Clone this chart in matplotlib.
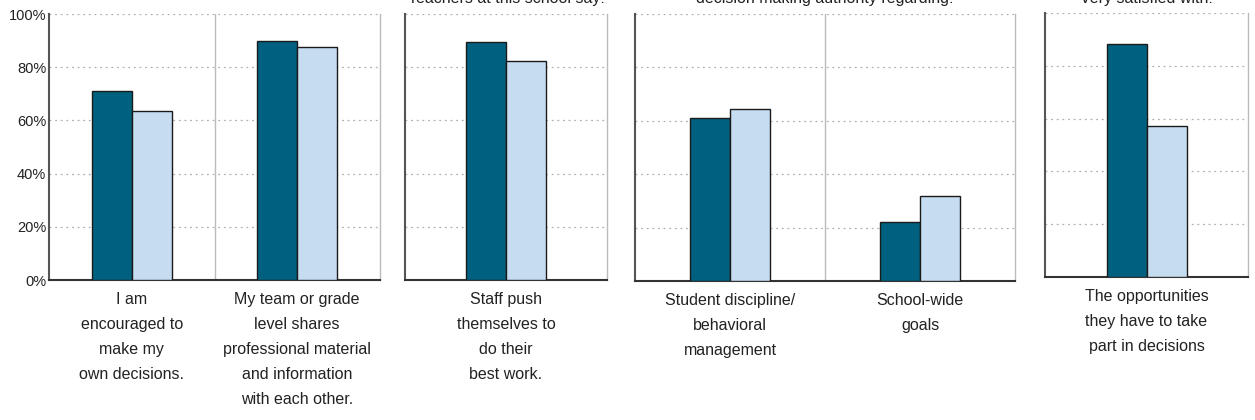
import matplotlib
matplotlib.use("Agg")
import matplotlib.pyplot as plt

plt.rcParams['font.family'] = ['Liberation Sans', 'DejaVu Sans']

# ---- data ----
panel_titles = ["", "Teachers at this school say:", "decision making authority regarding:", "Very satisfied with:"]
panel_categories = [
    ["I am\nencouraged to\nmake my\nown decisions.",
     "My team or grade\nlevel shares\nprofessional material\nand information\nwith each other."],
    ["Staff push\nthemselves to\ndo their\nbest work."],
    ["Student discipline/\nbehavioral\nmanagement", "School-wide\ngoals"],
    ["The opportunities\nthey have to take\npart in decisions"],
]
series_dark = [[71.2, 90.0], [89.3], [61.1, 22.1], [88.1]]
series_light = [[63.6, 87.7], [82.2], [64.5, 31.8], [57.1]]
y_ticks = [0, 20, 40, 60, 80, 100]
y_ticklabels = ["0%", "20%", "40%", "60%", "80%", "100%"]

# ---- layout (pixels) ----
W, H = 1255, 420
boxes = [(49, 380, 14, 280), (405, 607, 14, 280), (635, 1015, 14, 281), (1045, 1248, 13, 277)]
bar_px = 40
dark = "#00607F"
light = "#C6DCF1"
textc = "#222222"

fig = plt.figure(figsize=(W / 100, H / 100), dpi=100)

for i, (l, r, t, b) in enumerate(boxes):
    ax = fig.add_axes([l / W, 1 - b / H, (r - l) / W, (b - t) / H])
    cats = panel_categories[i]
    n = len(cats)
    w = bar_px / ((r - l) / n)
    xs = list(range(n))
    ax.bar([x - w / 2 for x in xs], series_dark[i], width=w, color=dark,
           edgecolor="#1a1a1a", linewidth=1.0, zorder=3)
    ax.bar([x + w / 2 for x in xs], series_light[i], width=w, color=light,
           edgecolor="#1a1a1a", linewidth=1.0, zorder=3)
    ax.set_xlim(-0.5, n - 0.5)
    ax.set_ylim(0, 100)
    ax.set_yticks(y_ticks)
    for yv in y_ticks[1:]:
        ax.axhline(yv, color="#b0b0b0", linestyle=(0, (1.5, 3)), linewidth=0.9, zorder=1)
    for k in range(1, n):
        ax.axvline(k - 0.5, color="#bbbbbb", linewidth=1.0, zorder=1)
    if i == 0:
        ax.set_yticklabels(y_ticklabels, fontsize=10.5, color=textc)
    else:
        ax.set_yticklabels([])
    ax.tick_params(axis="y", length=0, pad=2)
    ax.set_xticks(xs)
    ax.set_xticklabels(cats, fontsize=11.5, color=textc, linespacing=1.83)
    ax.tick_params(axis="x", length=0, pad=8.5)
    ax.spines["top"].set_visible(False)
    ax.spines["left"].set_color("#555555")
    ax.spines["left"].set_linewidth(1.5)
    ax.spines["bottom"].set_color("#333333")
    ax.spines["bottom"].set_linewidth(1.5)
    ax.spines["right"].set_color("#bbbbbb")
    ax.spines["right"].set_linewidth(1.0)
    if panel_titles[i]:
        fig.text(((l + r) / 2) / W, 1 - 2.5 / H, panel_titles[i], ha="center",
                 va="baseline", fontsize=11.5, color=textc)

fig.savefig("out.png", dpi=100)
